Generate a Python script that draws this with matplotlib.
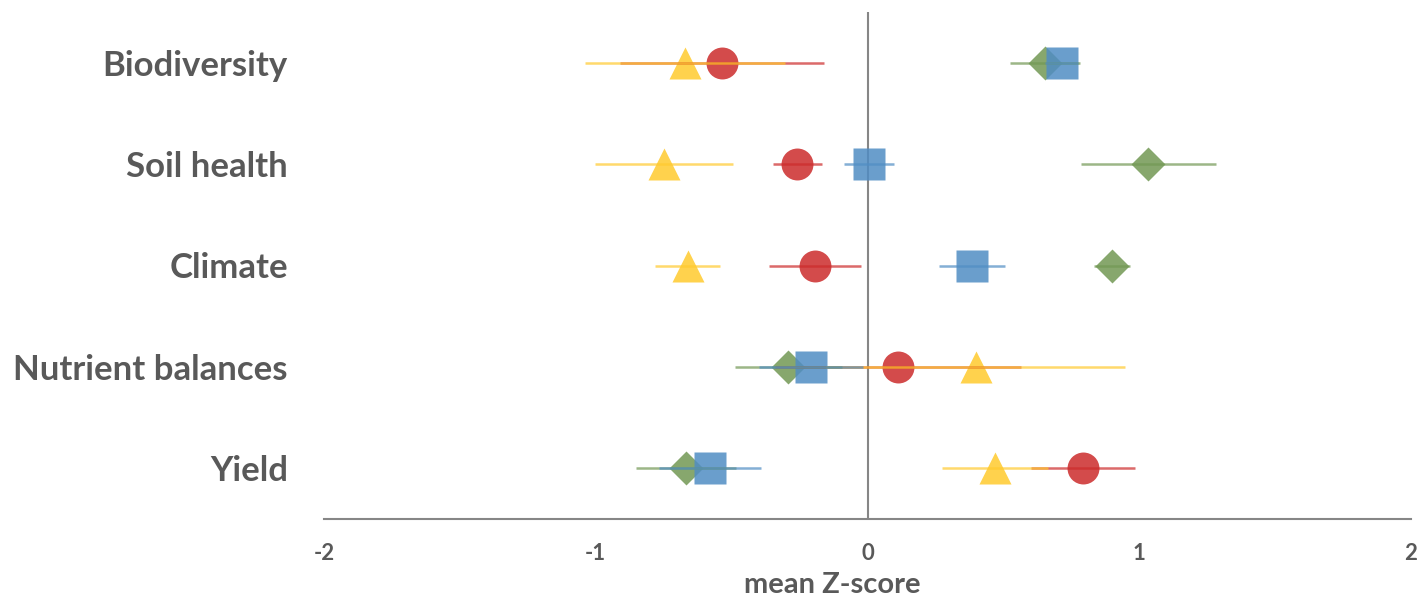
import matplotlib
matplotlib.use("Agg")
import matplotlib.pyplot as plt

# Indicator categories, bottom to top
categories = ["Yield", "Nutrient balances", "Climate", "Soil health", "Biodiversity"]

# Mean Z-scores and error half-widths per group (same order as categories)
red_mean = [0.792, 0.112, -0.194, -0.258, -0.536]
red_err = [0.191, 0.453, 0.170, 0.091, 0.375]

yellow_mean = [0.469, 0.398, -0.662, -0.749, -0.672]
yellow_err = [0.194, 0.549, 0.120, 0.254, 0.368]

green_mean = [-0.669, -0.291, 0.900, 1.033, 0.653]
green_err = [0.184, 0.196, 0.066, 0.248, 0.129]

blue_mean = [-0.580, -0.208, 0.385, 0.005, 0.714]
blue_err = [0.187, 0.190, 0.122, 0.091, 0.060]

xticks = [-2, -1, 0, 1, 2]

series = [
    (red_mean, red_err, "o", 23, "#CC2B2B"),
    (yellow_mean, yellow_err, "^", 23, "#FFCA2E"),
    (green_mean, green_err, "D", 17.5, "#729854"),
    (blue_mean, blue_err, "s", 23, "#508DC4"),
]

fig = plt.figure(figsize=(14.19, 5.98), dpi=100)
ax = fig.add_axes([324 / 1419, 79 / 598, 1087 / 1419, 507 / 598])

ypos = [i + 0.5 for i in range(len(categories))]

for k, (means, errs, marker, ms, color) in enumerate(series):
    ax.plot(means, ypos, linestyle="none", marker=marker, markersize=ms,
            markerfacecolor=color, markeredgecolor="none", alpha=0.85,
            zorder=3 + k * 0.1)
    ax.hlines(ypos, [m - e for m, e in zip(means, errs)],
              [m + e for m, e in zip(means, errs)],
              colors=color, linewidth=1.8, alpha=0.7, zorder=4 + k * 0.1)

axis_grey = "#868686"
text_grey = "#595959"

ax.axvline(0, color=axis_grey, linewidth=1.5, zorder=1)
ax.set_xlim(-2, 2)
ax.set_ylim(0, 5)
ax.set_xticks(xticks)
ax.set_xticklabels([str(t) for t in xticks])
ax.set_yticks(ypos)
ax.set_yticklabels(categories)

for side in ("left", "top", "right"):
    ax.spines[side].set_visible(False)
ax.spines["bottom"].set_color(axis_grey)
ax.spines["bottom"].set_linewidth(1.5)

ax.tick_params(axis="both", length=0)
ax.tick_params(axis="x", pad=17, labelsize=16, labelcolor=text_grey)
ax.tick_params(axis="y", pad=26, labelsize=25, labelcolor=text_grey)
for lab in ax.get_xticklabels() + ax.get_yticklabels():
    lab.set_fontfamily("Lato")
    lab.set_fontweight("bold")

ax.set_xlabel("mean Z-score", fontsize=21, fontweight="bold", color=text_grey,
              family="Lato")
ax.xaxis.set_label_coords(0.468, -0.131)
ax.xaxis.label.set_verticalalignment("center")

fig.savefig("out.png", dpi=100)
